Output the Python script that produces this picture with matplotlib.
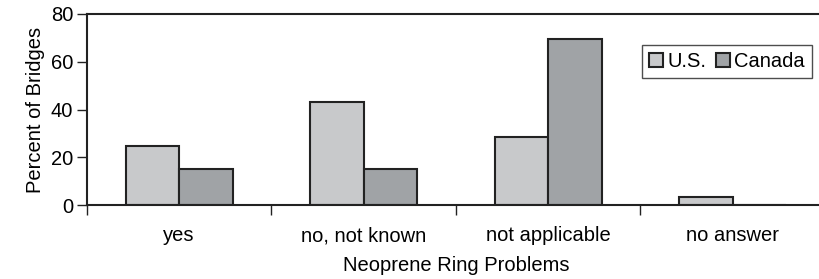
import numpy as np
import matplotlib.pyplot as plt

plt.rcParams.update({'font.family': ['Liberation Sans', 'DejaVu Sans'],
                     'font.size': 14.5})

categories = ['yes', 'no, not known', 'not applicable', 'no answer']
us = [25, 43, 28.7, 3.6]
canada = [15.3, 15.3, 69.4, 0]

fig = plt.figure(figsize=(8.2, 2.79), dpi=100)
ax = fig.add_axes([0.106, 0.264, 0.9, 0.686])

x = np.arange(len(categories))
w = 0.29
edge = '#222222'
ax.bar(x - w / 2, us, w, color='#c8c9cb', edgecolor=edge, lw=1.5,
       label='U.S.', zorder=2)
ax.bar(x + w / 2, canada, w, color='#a0a3a6', edgecolor=edge, lw=1.5,
       label='Canada', zorder=2)

ax.set_xlim(-0.5, len(categories) - 0.5)
ax.set_ylim(0, 80)
ax.set_yticks([0, 20, 40, 60, 80])
ax.set_xticks(x)
ax.set_xticklabels(categories)
ax.set_xticks(np.arange(len(categories) + 1) - 0.5, minor=True)
ax.tick_params(axis='x', which='major', length=0, pad=15)
ax.tick_params(axis='x', which='minor', length=7, width=1, color=edge)
ax.tick_params(axis='y', length=7, width=1, color=edge, pad=3)
for s in ['left', 'bottom', 'top']:
    ax.spines[s].set_linewidth(1.5)
    ax.spines[s].set_color(edge)
ax.spines['right'].set_visible(False)

ax.set_xlabel('Neoprene Ring Problems', labelpad=8)
ax.set_ylabel('Percent of Bridges', labelpad=4)

leg = ax.legend(loc='upper left', bbox_to_anchor=(0.752, 0.84), ncol=2,
                frameon=True, fancybox=False, edgecolor=edge,
                handlelength=0.7, handleheight=0.7, handletextpad=0.2,
                columnspacing=0.5, borderpad=0.35, borderaxespad=0)
leg.get_frame().set_linewidth(1.0)

fig.savefig('out.png', dpi=100)
